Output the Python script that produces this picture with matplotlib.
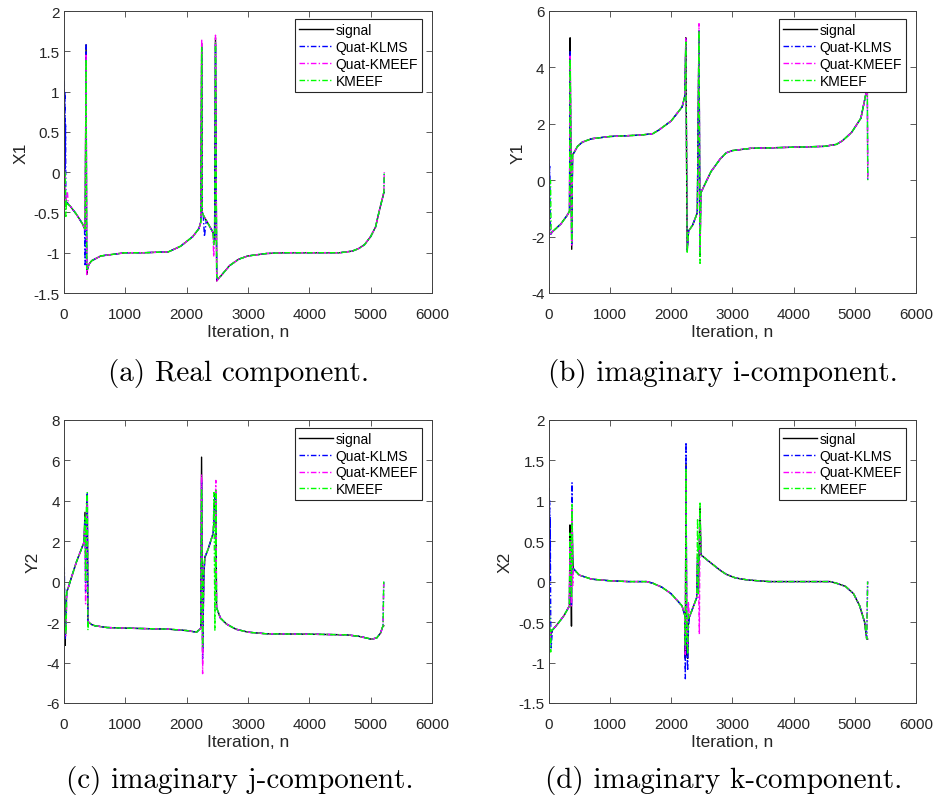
import numpy as np
import matplotlib.pyplot as plt
from matplotlib.ticker import FuncFormatter

plt.rcParams['font.family'] = ['Liberation Sans', 'DejaVu Sans']
plt.rcParams['axes.unicode_minus'] = False

labels = ["signal", "Quat-KLMS", "Quat-KMEEF", "KMEEF"]
colors = ["black", "#0000ff", "#ff00ff", "#00ff00"]

# ---- real component (X1) ----
n_a = [0, 5, 10, 15, 20, 25, 30, 40, 55, 70,
       100, 200, 300, 335, 345, 360, 370, 385, 395, 410,
       450, 500, 600, 800, 1000, 1300, 1700, 1900, 2100, 2200,
       2230, 2245, 2255, 2270, 2290, 2320, 2380, 2430, 2440, 2455,
       2470, 2490, 2520, 2600, 2700, 2850, 3000, 3300, 3600, 4000,
       4500, 4700, 4800, 4900, 5000, 5080, 5150, 5200, 5215, 5222]
sig_a = [0.0, -0.1, -0.25, -0.3, -0.35, -0.38, -0.4, -0.4, -0.38, -0.4,
         -0.42, -0.52, -0.64, -0.7, -0.72, 1.58, -1.27, -1.2, -1.17, -1.14,
         -1.1, -1.08, -1.04, -1.02, -1.0, -1.0, -0.99, -0.92, -0.8, -0.7,
         -0.62, 1.6, -0.5, -0.53, -0.56, -0.6, -0.68, -0.75, -0.8, -0.85,
         1.67, -1.35, -1.32, -1.25, -1.16, -1.08, -1.04, -1.01, -1.0, -1.0,
         -1.0, -0.98, -0.95, -0.9, -0.8, -0.68, -0.45, -0.3, -0.25, -0.25]
klms_a = [0.0, 1.13, 0.1, 1.0, 0.0, 0.6, -0.3, -0.4, -0.38, -0.4,
          -0.42, -0.52, -0.64, -0.7, -1.15, 1.58, -1.2, -1.2, -1.17, -1.14,
          -1.1, -1.08, -1.04, -1.02, -1.0, -1.0, -0.99, -0.92, -0.8, -0.7,
          -0.62, 1.55, -0.5, -0.53, -0.8, -0.6, -0.68, -0.75, -0.8, -0.85,
          1.6, -1.33, -1.32, -1.25, -1.16, -1.08, -1.04, -1.01, -1.0, -1.0,
          -1.0, -0.98, -0.95, -0.9, -0.8, -0.68, -0.45, -0.3, -0.25, 0.0]
qkmeef_a = [0.0, 0.3, -0.1, 0.0, -0.2, -0.3, -0.35, -0.3, -0.24, -0.4,
            -0.42, -0.52, -0.64, -0.7, -0.72, 1.45, -1.27, -1.2, -1.17, -1.14,
            -1.1, -1.08, -1.04, -1.02, -1.0, -1.0, -0.99, -0.92, -0.8, -0.7,
            -0.62, 1.65, -0.5, -0.53, -0.56, -0.6, -0.68, -0.75, -1.05, -0.85,
            1.7, -1.35, -1.32, -1.25, -1.16, -1.08, -1.04, -1.01, -1.0, -1.0,
            -1.0, -0.98, -0.95, -0.9, -0.8, -0.68, -0.45, -0.3, -0.25, 0.0]
kmeef_a = [0.0, 0.0, -0.1, 0.0, 0.0, -0.2, -0.55, -0.35, -0.4, -0.4,
           -0.42, -0.52, -0.64, -0.7, -0.72, 1.4, -1.2, -1.2, -1.17, -1.14,
           -1.1, -1.08, -1.04, -1.02, -1.0, -1.0, -0.99, -0.92, -0.8, -0.7,
           -0.62, 1.55, -0.5, -0.53, -0.56, -0.6, -0.68, -0.75, -0.9, -0.85,
           1.6, -1.3, -1.32, -1.25, -1.16, -1.08, -1.04, -1.01, -1.0, -1.0,
           -1.0, -0.98, -0.95, -0.9, -0.8, -0.68, -0.45, -0.3, -0.25, 0.0]

# ---- imaginary i-component (Y1) ----
n_b = [0, 5, 10, 15, 20, 30, 40, 50, 100, 200,
       300, 340, 350, 362, 376, 390, 420, 470, 550, 700,
       1000, 1500, 1700, 1800, 2000, 2180, 2225, 2240, 2262, 2285,
       2350, 2428, 2455, 2472, 2485, 2550, 2650, 2800, 2900, 3000,
       3300, 4000, 4500, 4700, 4800, 4950, 5100, 5185, 5205, 5212]
sig_b = [-1.9, -1.9, -1.9, -1.9, -1.9, -1.9, -1.9, -1.85, -1.75, -1.55,
         -1.25, -1.1, 5.05, 1.0, -2.45, 0.9, 1.0, 1.2, 1.35, 1.47,
         1.55, 1.6, 1.65, 1.78, 2.1, 2.6, 3.0, 5.05, -2.5, -1.8,
         -1.6, -1.15, 5.2, -2.7, -0.45, -0.15, 0.3, 0.75, 0.97, 1.05,
         1.13, 1.17, 1.2, 1.27, 1.4, 1.7, 2.2, 3.1, 3.25, 3.25]
klms_b = [0.0, 0.7, -0.9, 0.5, -0.5, -1.9, -1.9, -1.85, -1.75, -1.55,
          -1.25, -1.1, 4.6, 1.0, -2.3, 0.9, 1.0, 1.2, 1.35, 1.47,
          1.55, 1.6, 1.65, 1.78, 2.1, 2.6, 3.0, 5.0, -2.5, -1.8,
          -1.6, -1.15, 5.3, -2.6, -0.45, -0.15, 0.3, 0.75, 0.97, 1.05,
          1.13, 1.17, 1.2, 1.27, 1.4, 1.7, 2.2, 3.1, 3.25, 0.0]
qkmeef_b = [0.0, -0.5, -1.0, -1.5, -1.9, -1.85, -1.9, -1.85, -1.75, -1.55,
            -1.25, -1.1, 4.4, 1.0, -2.3, 0.9, 1.0, 1.2, 1.35, 1.47,
            1.55, 1.6, 1.65, 1.78, 2.1, 2.6, 3.0, 5.05, -2.4, -1.8,
            -1.6, -1.15, 5.55, -2.6, -0.45, -0.15, 0.3, 0.75, 0.97, 1.05,
            1.13, 1.17, 1.2, 1.27, 1.4, 1.7, 2.2, 3.1, 3.25, 0.0]
kmeef_b = [0.0, 0.0, 0.0, 0.0, 0.0, 0.0, -1.85, -1.85, -1.75, -1.55,
           -1.25, -1.1, 4.3, 1.0, -2.2, 0.9, 1.0, 1.2, 1.35, 1.47,
           1.55, 1.6, 1.65, 1.78, 2.1, 2.6, 3.0, 4.9, -2.6, -1.8,
           -1.6, -1.15, 5.3, -2.95, -0.45, -0.15, 0.3, 0.75, 0.97, 1.05,
           1.13, 1.17, 1.2, 1.27, 1.4, 1.7, 2.2, 3.1, 3.25, 0.0]

# ---- imaginary j-component (Y2) ----
n_c = [0, 5, 10, 20, 33, 45, 70, 100, 200, 326,
       342, 352, 365, 380, 390, 400, 450, 500, 700, 1000,
       1700, 2000, 2162, 2230, 2243, 2260, 2280, 2297, 2350, 2433,
       2445, 2460, 2476, 2487, 2550, 2650, 2800, 3000, 3300, 4000,
       4600, 4800, 4950, 5014, 5100, 5160, 5202, 5213]
sig_c = [-1.0, -2.2, -2.8, -3.15, -1.0, -0.5, -0.3, 0.0, 0.95, 1.94,
         3.42, 1.8, 2.5, 4.3, -2.0, -2.0, -2.12, -2.18, -2.27, -2.3,
         -2.35, -2.42, -2.5, -2.3, 6.15, -3.5, 0.3, 1.2, 1.6, 2.4,
         3.0, 4.3, 4.0, -1.28, -1.8, -2.1, -2.35, -2.5, -2.58, -2.6,
         -2.63, -2.7, -2.8, -2.85, -2.78, -2.55, -2.18, -2.18]
klms_c = [0.0, 0.7, -0.5, -2.8, -2.0, -0.5, -0.3, 0.0, 0.95, 1.94,
          3.0, -0.5, 2.0, 4.4, -2.0, -2.0, -2.12, -2.18, -2.27, -2.3,
          -2.35, -2.42, -2.5, -2.3, 5.0, -3.8, 0.3, 1.2, 1.6, 2.4,
          3.0, 4.3, 4.5, -1.28, -1.8, -2.1, -2.35, -2.5, -2.58, -2.6,
          -2.63, -2.7, -2.8, -2.85, -2.78, -2.55, -2.18, 0.0]
qkmeef_c = [0.0, -1.0, -2.0, -2.5, -2.7, -0.5, -0.3, 0.0, 0.95, 1.94,
            2.5, -1.1, 3.0, 4.2, -2.0, -2.0, -2.12, -2.18, -2.27, -2.3,
            -2.35, -2.42, -2.5, -2.3, 5.3, -4.55, 0.5, 1.2, 1.6, 2.4,
            3.5, 3.0, 5.0, -1.3, -1.8, -2.1, -2.35, -2.5, -2.58, -2.6,
            -2.63, -2.7, -2.8, -2.85, -2.78, -2.55, -2.18, 0.0]
kmeef_c = [0.0, 0.0, -0.5, -2.0, -2.6, -0.5, -0.3, 0.0, 0.95, 1.94,
           3.2, 0.0, 3.8, 4.4, -2.4, -2.0, -2.12, -2.18, -2.27, -2.3,
           -2.35, -2.42, -2.5, -2.3, 4.6, -3.2, 0.8, 1.2, 1.6, 2.4,
           4.4, -2.4, 4.5, -1.28, -1.8, -2.1, -2.35, -2.5, -2.58, -2.6,
           -2.63, -2.7, -2.8, -2.85, -2.78, -2.55, -2.18, 0.0]

# ---- imaginary k-component (X2) ----
n_d = [0, 5, 10, 15, 20, 25, 33, 40, 60, 150,
       250, 338, 348, 362, 372, 381, 392, 403, 500, 700,
       1000, 1300, 1600, 1700, 1850, 2000, 2178, 2225, 2232, 2243,
       2255, 2270, 2282, 2297, 2417, 2432, 2445, 2461, 2472, 2488,
       2600, 2700, 2800, 2900, 3050, 3250, 3600, 4000, 4600, 4700,
       4850, 4980, 5080, 5160, 5195, 5210]
sig_d = [-0.3, -0.5, -0.6, -0.65, -0.7, -0.72, -0.7, -0.65, -0.6, -0.52,
         -0.42, -0.3, 0.7, 0.2, -0.55, 0.9, 0.3, 0.16, 0.08, 0.03,
         0.01, 0.0, 0.0, -0.02, -0.07, -0.15, -0.3, -0.42, -0.95, 1.45,
         -0.9, -0.95, -0.5, -0.44, -0.2, 0.3, -0.1, 0.5, 0.9, 0.33,
         0.26, 0.2, 0.14, 0.09, 0.045, 0.02, 0.0, 0.0, 0.0, -0.02,
         -0.06, -0.15, -0.3, -0.5, -0.71, -0.71]
klms_d = [0.0, 1.15, 0.0, 1.0, 0.1, 0.8, -0.5, -0.82, -0.6, -0.52,
          -0.42, -0.3, 0.5, 0.2, -0.3, 1.22, 0.1, 0.16, 0.08, 0.03,
          0.01, 0.0, 0.0, -0.02, -0.07, -0.15, -0.3, -0.42, -1.2, 1.72,
          -0.8, -1.1, -0.6, -0.44, -0.2, 0.3, -0.1, 0.3, 0.8, 0.33,
          0.26, 0.2, 0.14, 0.09, 0.045, 0.02, 0.0, 0.0, 0.0, -0.02,
          -0.06, -0.15, -0.3, -0.5, -0.71, 0.0]
qkmeef_d = [0.0, 0.3, -0.3, -0.5, -0.7, -0.75, -0.65, -0.6, -0.6, -0.52,
            -0.42, -0.3, 0.5, 0.2, -0.3, 0.9, -0.05, 0.15, 0.08, 0.03,
            0.01, 0.0, 0.0, -0.02, -0.07, -0.15, -0.3, -0.42, -0.9, 1.35,
            -0.6, -0.8, -0.25, -0.44, -0.2, 0.3, 0.2, -0.65, 0.8, 0.33,
            0.26, 0.2, 0.14, 0.09, 0.045, 0.02, 0.0, 0.0, 0.0, -0.02,
            -0.06, -0.15, -0.3, -0.5, -0.71, 0.0]
kmeef_d = [0.0, 0.0, -0.2, -0.4, -0.6, -0.8, -0.87, -0.6, -0.6, -0.52,
           -0.42, -0.3, 0.6, 0.2, -0.2, 0.95, 0.2, 0.16, 0.08, 0.03,
           0.01, 0.0, 0.0, -0.02, -0.07, -0.15, -0.3, -0.42, -0.8, 1.4,
           -0.7, -0.9, -0.4, -0.44, -0.2, 0.78, -0.15, 0.5, 0.97, 0.33,
           0.26, 0.2, 0.14, 0.09, 0.045, 0.02, 0.0, 0.0, 0.0, -0.02,
           -0.06, -0.15, -0.3, -0.5, -0.71, 0.0]

x_ticks = [0, 1000, 2000, 3000, 4000, 5000, 6000]
dash_dot = (0, (4, 1.6, 1, 1.6))


def plot_panel(ax, n, ys, ylabel, yticks):
    for i, y in enumerate(ys):
        style = "-" if i == 0 else dash_dot
        ax.plot(n, y, color=colors[i], linestyle=style, lw=1.0, label=labels[i])
    ax.set_xlim(0, 6000)
    ax.set_ylim(yticks[0], yticks[-1])
    ax.set_xticks(x_ticks)
    ax.set_yticks(yticks)
    fmt = FuncFormatter(lambda v, pos: "%g" % v)
    ax.xaxis.set_major_formatter(fmt)
    ax.yaxis.set_major_formatter(fmt)
    ax.tick_params(direction="in", top=True, right=True, length=4, width=0.6,
                   color="#404040", labelcolor="#262626", labelsize=11)
    ax.tick_params(axis="x", pad=10)
    ax.tick_params(axis="y", pad=3)
    for sp in ax.spines.values():
        sp.set_color("#404040")
        sp.set_linewidth(0.7)
    ax.set_xlabel("Iteration, n", fontsize=12.5, color="#262626", labelpad=2)
    ax.set_ylabel(ylabel, fontsize=12.5, color="#262626", labelpad=4)
    leg = ax.legend(loc="upper right", bbox_to_anchor=(0.973, 0.9716), borderaxespad=0,
                    fontsize=10, handlelength=2.45, handletextpad=0.15, labelspacing=0.2,
                    borderpad=0.3, fancybox=False, framealpha=1)
    leg.get_frame().set_edgecolor("#262626")
    leg.get_frame().set_linewidth(0.8)


def main():
    fig = plt.figure(figsize=(9.36, 8.03), dpi=100)
    W, H = 936, 803
    boxes = [(64, 12, 432, 294), (548.7, 12, 916, 294),
             (64, 420.7, 432, 704), (548.7, 420.7, 916, 704)]
    axes = []
    for x0, y0, x1, y1 in boxes:
        axes.append(fig.add_axes([x0 / W, 1 - y1 / H, (x1 - x0) / W, (y1 - y0) / H]))

    plot_panel(axes[0], n_a, [sig_a, klms_a, qkmeef_a, kmeef_a], "X1",
               [-1.5, -1, -0.5, 0, 0.5, 1, 1.5, 2])
    plot_panel(axes[1], n_b, [sig_b, klms_b, qkmeef_b, kmeef_b], "Y1",
               [-4, -2, 0, 2, 4, 6])
    plot_panel(axes[2], n_c, [sig_c, klms_c, qkmeef_c, kmeef_c], "Y2",
               [-6, -4, -2, 0, 2, 4, 6, 8])
    plot_panel(axes[3], n_d, [sig_d, klms_d, qkmeef_d, kmeef_d], "X2",
               [-1.5, -1, -0.5, 0, 0.5, 1, 1.5, 2])

    captions = [("(a) Real component.", 239, 373),
                ("(b) imaginary i-component.", 723, 373),
                ("(c) imaginary j-component.", 240, 781),
                ("(d) imaginary k-component.", 724, 781)]
    for txt, cx, cy in captions:
        fig.text(cx / W, 1 - cy / H, txt, fontsize=21, family="cmr10",
                 ha="center", va="center")

    fig.savefig("out.png", dpi=100)


if __name__ == "__main__":
    main()
